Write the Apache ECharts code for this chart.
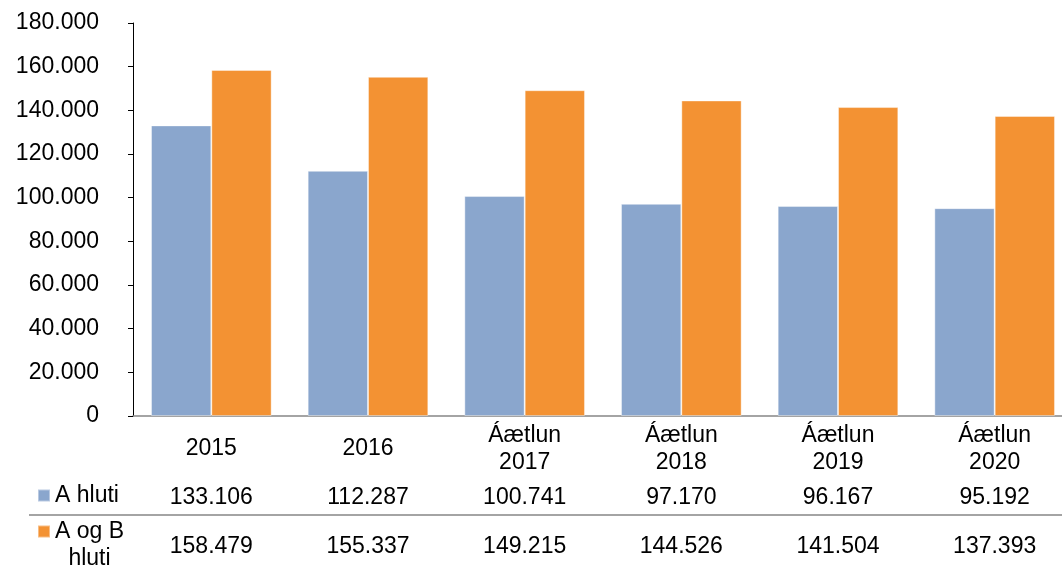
<!DOCTYPE html>
<html>
<head>
<meta charset="utf-8">
<script src="https://cdn.jsdelivr.net/npm/echarts@6/dist/echarts.min.js"></script>
<style>
html,body{margin:0;padding:0;background:#fff;}
#chart{width:1062px;height:567px;}
</style>
</head>
<body>
<div id="chart"></div>
<script>
const categories = ['2015', '2016', 'Áætlun\n2017', 'Áætlun\n2018', 'Áætlun\n2019', 'Áætlun\n2020'];
const seriesNames = ['A hluti', 'A og B hluti'];
const aHluti = [133106, 112287, 100741, 97170, 96167, 95192];
const aOgBHluti = [158479, 155337, 149215, 144526, 141504, 137393];
const yMin = 0, yMax = 180000, yStep = 20000;

const FONT = 'Liberation Sans, Arial, sans-serif';
const FS = 23;
const LH = 27;
function fmt(n) { return String(n).replace(/\B(?=(\d{3})+(?!\d))/g, '.'); }

const chart = echarts.init(document.getElementById('chart'), null, {renderer: 'canvas'});
const hiddenAxis = (offset, values) => ({
  type: 'category', gridIndex: 0, position: 'bottom', offset: offset,
  data: categories,
  axisLine: {show: false}, axisTick: {show: false},
  axisLabel: {
    interval: 0, margin: 0, verticalAlign: 'middle',
    color: '#000', fontSize: FS, fontFamily: FONT, lineHeight: LH,
    formatter: (v, i) => fmt(values[i])
  }
});
const option = {
  animation: false,
  backgroundColor: '#fff',
  textStyle: {fontFamily: FONT},
  grid: {left: 133, width: 940, top: 23, bottom: 151, containLabel: false, outerBoundsMode: 'none'},
  legend: [
    {
      data: [seriesNames[0]], left: 37, top: 482, padding: 0, orient: 'vertical',
      itemWidth: 12, itemHeight: 12, itemGap: 5, selectedMode: false,
      icon: 'rect',
      textStyle: {color: '#000', fontSize: FS, fontFamily: FONT, lineHeight: LH}
    },
    {
      data: [seriesNames[1]], left: 37, top: 491, padding: 0, orient: 'vertical',
      itemWidth: 12, itemHeight: 12, itemGap: 5, selectedMode: false,
      icon: 'rect',
      formatter: () => '{a|A og B}\n{b|hluti}',
      textStyle: {
        color: '#000', fontSize: FS, fontFamily: FONT, lineHeight: LH,
        padding: [LH, 0, 0, 0],
        rich: {
          a: {color: '#000', fontSize: FS, fontFamily: FONT, lineHeight: LH},
          b: {color: '#000', fontSize: FS, fontFamily: FONT, lineHeight: LH, align: 'center'}
        }
      }
    }
  ],
  xAxis: [
    {
      type: 'category', gridIndex: 0, position: 'bottom', data: categories,
      axisLine: {show: true, lineStyle: {color: '#868686', width: 1.5}},
      axisTick: {show: false},
      axisLabel: {
        interval: 0, margin: 33, verticalAlign: 'middle',
        color: '#000', fontSize: FS, fontFamily: FONT, lineHeight: LH
      }
    },
    hiddenAxis(82, aHluti),
    hiddenAxis(131, aOgBHluti)
  ],
  yAxis: {
    type: 'value', min: yMin, max: yMax, interval: yStep,
    axisLine: {show: true, lineStyle: {color: '#000', width: 1}},
    axisTick: {show: true, inside: false, length: 5, lineStyle: {color: '#000'}},
    splitLine: {show: false},
    axisLabel: {
      margin: 34, color: '#000', fontSize: FS, fontFamily: FONT,
      formatter: v => fmt(v)
    }
  },
  graphic: [
    {type: 'line', shape: {x1: 29, y1: 515, x2: 1062, y2: 515},
     style: {stroke: '#868686', lineWidth: 1.5}, silent: true}
  ],
  series: [
    {
      name: seriesNames[0], type: 'bar', xAxisIndex: 0, data: aHluti,
      barGap: '0%', barCategoryGap: '23%',
      itemStyle: {color: '#8AA6CD', borderColor: 'rgba(255,255,255,0.4)', borderWidth: 1}
    },
    {
      name: seriesNames[1], type: 'bar', xAxisIndex: 0, data: aOgBHluti,
      barGap: '0%', barCategoryGap: '23%',
      itemStyle: {color: '#F39233', borderColor: 'rgba(255,255,255,0.4)', borderWidth: 1}
    }
  ]
};
chart.setOption(option);
</script>
</body>
</html>
